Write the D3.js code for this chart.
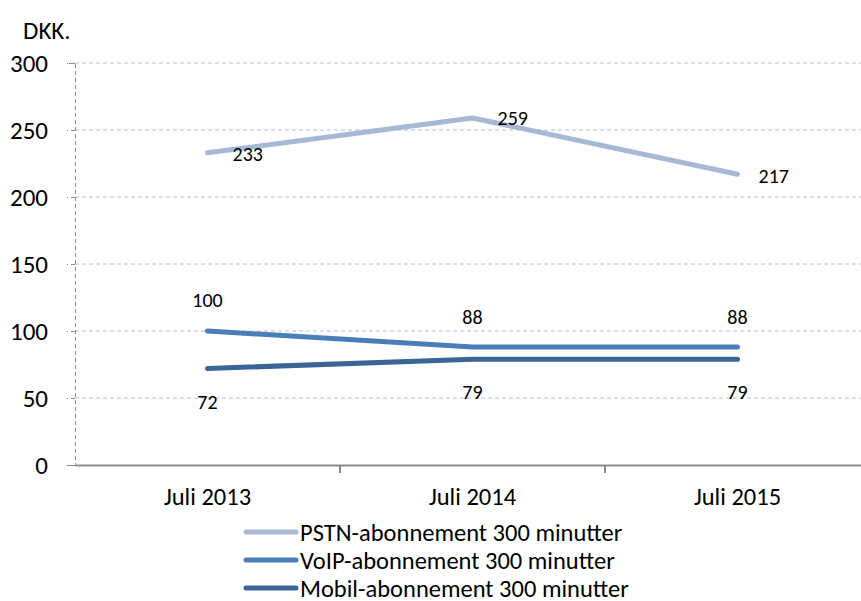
<!DOCTYPE html>
<html>
<head>
<meta charset="utf-8">
<script src="https://cdn.jsdelivr.net/npm/d3@7"></script>
<style>
  body { margin: 0; background: #fff; }
  text { font-family: Carlito, "Open Sans", sans-serif; fill: #000; }
</style>
</head>
<body>
<div id="chart"></div>
<script>
const categories = ['Juli 2013', 'Juli 2014', 'Juli 2015'];
const pstnValues = [233, 259, 217];
const voipValues = [100, 88, 88];
const mobilValues = [72, 79, 79];
const yTicks = [0, 50, 100, 150, 200, 250, 300];
const seriesNames = ['PSTN-abonnement 300 minutter', 'VoIP-abonnement 300 minutter', 'Mobil-abonnement 300 minutter'];

const width = 861, height = 601;
const margin = { top: 63, left: 75, bottom: 136, right: -9 };

const svg = d3.select('#chart').append('svg')
    .attr('width', width)
    .attr('height', height);

const plotWidth = width - margin.left - margin.right;
const plotHeight = height - margin.top - margin.bottom;

const plot = svg.append('g')
    .attr('transform', `translate(${margin.left},${margin.top})`);

const x = d3.scaleBand().domain(categories).range([0, plotWidth]);
const y = d3.scaleLinear().domain([0, 300]).range([plotHeight, 0]);

// gridlines
plot.append('g')
    .selectAll('line')
    .data(yTicks.filter(d => d > 0))
    .join('line')
    .attr('x1', 0).attr('x2', plotWidth)
    .attr('y1', d => y(d)).attr('y2', d => y(d))
    .attr('stroke', '#b4c0d6')
    .attr('stroke-width', 1)
    .attr('stroke-dasharray', '4,3');

// y axis
const yAxis = d3.axisLeft(y).tickValues(yTicks).tickSize(8).tickPadding(19);
const yG = plot.append('g').call(yAxis);
yG.select('.domain').attr('stroke', '#8c8c8c').attr('stroke-dasharray', '4,3');
yG.selectAll('.tick line').attr('stroke', '#8c8c8c').attr('stroke-dasharray', '4,3');
yG.selectAll('.tick text').attr('font-size', 25).attr('dy', '0.35em')
    .style('font-family', 'Carlito, "Open Sans", sans-serif');

// x axis
const xAxis = d3.axisBottom(x).tickSize(0).tickPadding(23);
const xG = plot.append('g')
    .attr('transform', `translate(0,${plotHeight})`)
    .call(xAxis);
xG.select('.domain').attr('stroke', '#8c8c8c').attr('stroke-width', 2);
xG.selectAll('.tick text').attr('font-size', 24.5)
    .style('font-family', 'Carlito, "Open Sans", sans-serif');
xG.selectAll('.cat-tick')
    .data(categories.slice(1))
    .join('line')
    .attr('x1', d => x(d)).attr('x2', d => x(d))
    .attr('y1', 0).attr('y2', 8)
    .attr('stroke', '#8c8c8c')
    .attr('stroke-width', 2);

svg.append('text')
    .attr('x', 23).attr('y', 39)
    .attr('font-size', 25)
    .text('DKK.');

const series = [
  { name: seriesNames[0], values: pstnValues, color: '#a6b8d6',
    labelDx: [25, 25, 21], labelDy: [1, 0, 2], anchor: 'start' },
  { name: seriesNames[1], values: voipValues, color: '#4a7ebb',
    labelDx: [0, 0, 0], labelDy: [-31, -30, -30], anchor: 'middle' },
  { name: seriesNames[2], values: mobilValues, color: '#3b6497',
    labelDx: [0, 0, 0], labelDy: [33, 33, 33], anchor: 'middle' }
];

const line = d3.line()
    .x((d, i) => x(categories[i]) + x.bandwidth() / 2)
    .y(d => y(d));

series.forEach(s => {
  plot.append('path')
      .datum(s.values)
      .attr('fill', 'none')
      .attr('stroke', s.color)
      .attr('stroke-width', 5)
      .attr('stroke-linecap', 'round')
      .attr('stroke-linejoin', 'round')
      .attr('d', line);

  plot.append('g')
      .selectAll('text')
      .data(s.values)
      .join('text')
      .attr('x', (d, i) => x(categories[i]) + x.bandwidth() / 2 + s.labelDx[i])
      .attr('y', (d, i) => y(d) + s.labelDy[i])
      .attr('dy', '0.35em')
      .attr('text-anchor', s.anchor)
      .attr('font-size', 20)
      .text(d => d);
});

// legend
const legend = svg.append('g')
    .attr('transform', 'translate(246,532)');
const rows = legend.selectAll('g')
    .data(series)
    .join('g')
    .attr('transform', (d, i) => `translate(0,${i * 28})`);
rows.append('line')
    .attr('x1', 0).attr('x2', 50)
    .attr('stroke', d => d.color)
    .attr('stroke-width', 5)
    .attr('stroke-linecap', 'round');
rows.append('text')
    .attr('x', 54)
    .attr('dy', '0.35em')
    .attr('font-size', 24.5)
    .text(d => d.name);
</script>
</body>
</html>
